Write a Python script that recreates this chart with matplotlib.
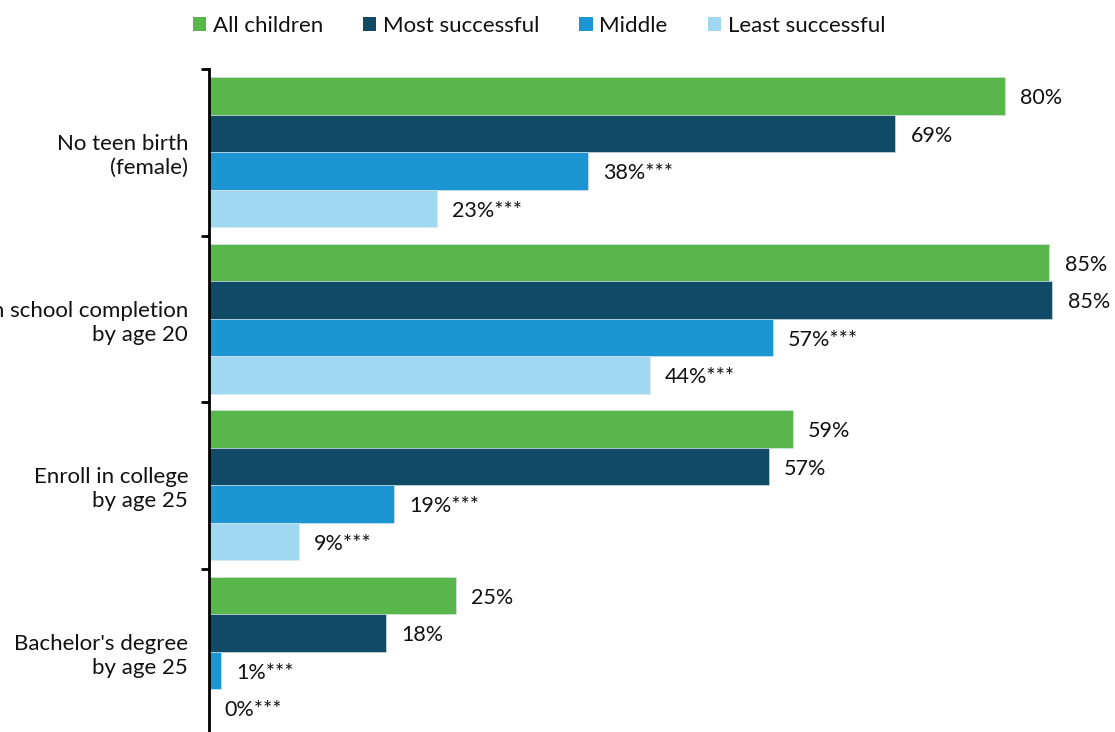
import numpy as np
import matplotlib.pyplot as plt
from matplotlib.patches import Patch

plt.rcParams['font.family'] = ['Lato', 'DejaVu Sans']

categories = ["No teen birth\n(female)", "High school completion\nby age 20",
              "Enroll in college\nby age 25", "Bachelor's degree\nby age 25"]
series = ["All children", "Most successful", "Middle", "Least successful"]
all_children = [80.0, 84.5, 58.7, 24.8]
most_successful = [69.0, 84.8, 56.3, 17.8]
middle = [38.1, 56.7, 18.6, 1.2]
least_successful = [22.9, 44.3, 9.0, 0.0]
labels_all = ["80%", "85%", "59%", "25%"]
labels_most = ["69%", "85%", "57%", "18%"]
labels_middle = ["38%***", "57%***", "19%***", "1%***"]
labels_least = ["23%***", "44%***", "9%***", "0%***"]

colors = ["#59B64B", "#104A66", "#1C96D2", "#A0D8F2"]
values = [all_children, most_successful, middle, least_successful]
labels = [labels_all, labels_most, labels_middle, labels_least]
txt = '#111111'

fig = plt.figure(figsize=(11.15, 7.32), dpi=100)
ax = fig.add_axes([209 / 1115, -3 / 732, 900 / 1115, 666 / 732])

y = np.arange(len(categories))
h = 0.225
for i, (vals, labs, c) in enumerate(zip(values, labels, colors)):
    pos = y + (i - 1.5) * h
    ax.barh(pos, vals, height=h, color=c, edgecolor='#dfe8ee', linewidth=0.4)
    for p, v, t in zip(pos, vals, labs):
        ax.annotate(t, xy=(v, p), xytext=(11, -1.5), textcoords='offset points',
                    ha='left', va='center', fontsize=15.5, color=txt)

ax.set_xlim(0, 90.5)
ax.set_ylim(3.5, -0.5)
ax.set_yticks(np.arange(-0.5, 4.0, 1.0))
ax.set_yticklabels([])
ax.tick_params(axis='y', which='major', direction='out', length=6, width=2)
ax.set_yticks(y, minor=True)
ax.set_yticklabels(categories, minor=True, fontsize=16, ha='right',
                   multialignment='right', color=txt, linespacing=1.25)
ax.tick_params(axis='y', which='minor', length=0, pad=15)
ax.set_xticks([])
for s in ['top', 'right', 'bottom']:
    ax.spines[s].set_visible(False)
ax.spines['left'].set_linewidth(2)

handles = [Patch(facecolor=c, edgecolor='none') for c in colors]
fig.legend(handles, series, loc='center', bbox_to_anchor=(539 / 1115, 1 - 26 / 732),
           ncol=4, frameon=False, fontsize=16, handlelength=0.6, handleheight=0.6,
           handletextpad=0.3, columnspacing=1.8, labelcolor=txt)

fig.savefig('out.png', dpi=100)
